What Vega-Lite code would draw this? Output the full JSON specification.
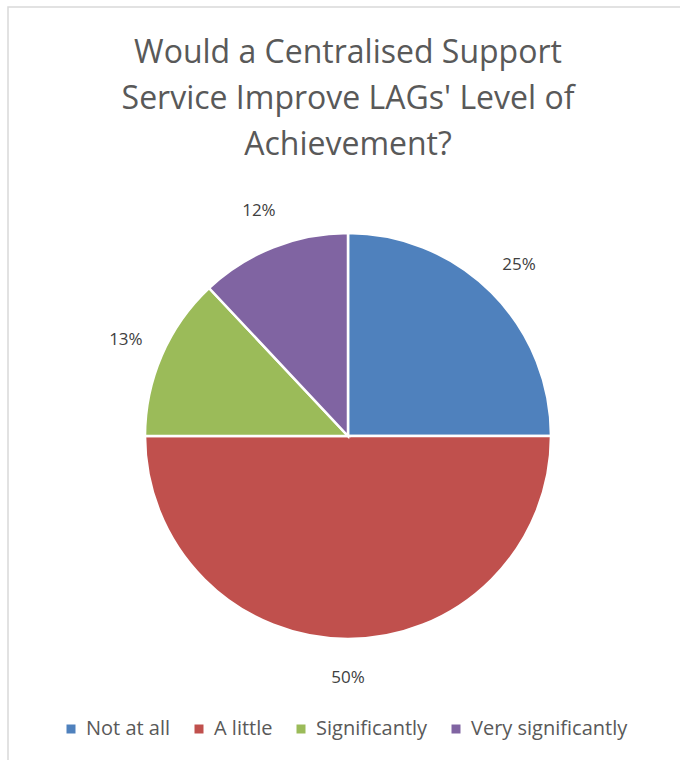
{
  "$schema": "https://vega.github.io/schema/vega-lite/v6.json",
  "autosize": "none",
  "padding": {"left": 8, "top": 7, "right": 0, "bottom": 0},
  "width": 680,
  "height": 858,
  "background": "white",
  "view": {"stroke": "#D9D9D9", "strokeWidth": 1.5, "fill": "white"},
  "title": {
    "text": ["Would a Centralised Support", "Service Improve LAGs' Level of", "Achievement?"],
    "orient": "top",
    "anchor": "middle",
    "frame": "group",
    "font": "Open Sans",
    "fontSize": 32,
    "fontWeight": "normal",
    "color": "#595959",
    "lineHeight": 46,
    "offset": -155
  },
  "data": {
    "values": [
      {"category": "Not at all", "value": 25, "label": "25%", "order": 1},
      {"category": "A little", "value": 50, "label": "50%", "order": 2},
      {"category": "Significantly", "value": 13, "label": "13%", "order": 3},
      {"category": "Very significantly", "value": 12, "label": "12%", "order": 4}
    ]
  },
  "encoding": {
    "theta": {"field": "value", "type": "quantitative", "stack": true},
    "order": {"field": "order", "type": "quantitative"},
    "color": {
      "field": "category",
      "type": "nominal",
      "sort": ["Not at all", "A little", "Significantly", "Very significantly"],
      "scale": {
        "domain": ["Not at all", "A little", "Significantly", "Very significantly"],
        "range": ["#4F81BD", "#C0504D", "#9BBB59", "#8064A2"]
      },
      "legend": {
        "title": null,
        "orient": "none",
        "direction": "horizontal",
        "columns": 4,
        "legendX": 53,
        "legendY": 712,
        "symbolType": "square",
        "symbolSize": 81,
        "symbolStrokeWidth": 0,
        "labelFont": "Open Sans",
        "labelFontSize": 20,
        "labelColor": "#595959",
        "labelOffset": 5,
        "columnPadding": 18
      }
    }
  },
  "layer": [
    {
      "mark": {"type": "arc", "outerRadius": 203, "stroke": "white", "strokeWidth": 2.5}
    },
    {
      "mark": {"type": "text", "radius": 242, "font": "Open Sans", "fontSize": 17, "fill": "#404040", "align": "center", "baseline": "middle"},
      "encoding": {
        "text": {"field": "label", "type": "nominal"},
        "color": {"value": "#404040"}
      }
    }
  ]
}
